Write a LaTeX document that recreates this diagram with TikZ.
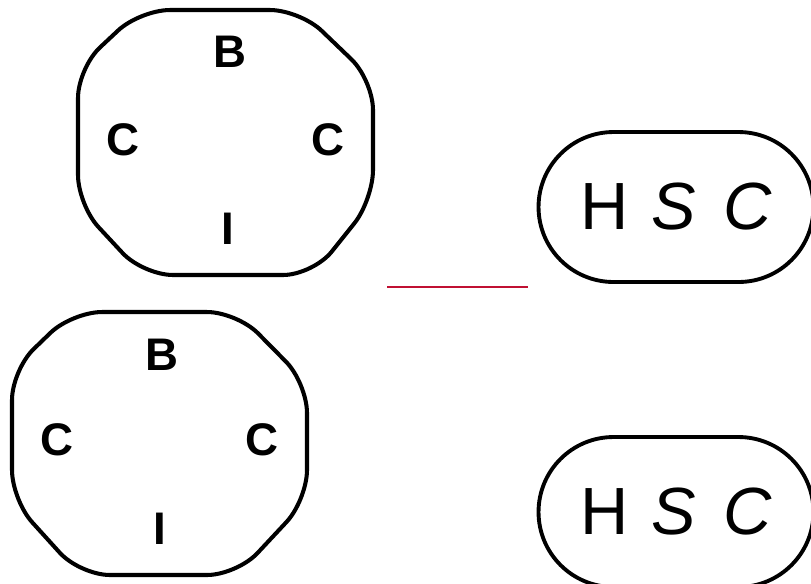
\documentclass[tikz,border=0pt]{standalone}
\usepackage{fontspec}
\setmainfont{Liberation Sans}
\usetikzlibrary{shapes.misc}
\definecolor{rulered}{RGB}{192,16,50}

\begin{document}
\begin{tikzpicture}[
  x=0.02cm, y=-0.02cm,
  pad/.style={draw, line width=2.3pt, rounded corners=0.6cm, line join=round},
  lbl/.style={font=\fontsize{26}{28}\selectfont\bfseries, inner sep=0pt},
  pill/.style={draw, line width=2.2pt, rounded rectangle, inner sep=0pt,
               minimum width=5.5cm, minimum height=3cm,
               font=\fontsize{38}{42}\selectfont},
  rule/.style={draw=rulered, line width=1.2pt}
]
\useasboundingbox (0,0) rectangle (811,583);
\clip (0,0) rectangle (811,583);

% ---- upper pad ----
\draw[pad] (140,10) -- (300,10) -- (373,80) -- (373,200) -- (313,275)
           -- (143,275) -- (78,205) -- (78,68) -- cycle;
\node[lbl] (bup)  at (230,52)  {B};
\node[lbl] (clup) at (123,140) {C};
\node[lbl] (crup) at (328,140) {C};
\node[lbl] (iup)  at (228,229) {I};

% ---- lower pad ----
\draw[pad] (72,312) -- (237,312) -- (307,383) -- (307,500) -- (237,575)
           -- (80,575) -- (12,500) -- (12,370) -- cycle;
\node[lbl] (blo)  at (162,355) {B};
\node[lbl] (cllo) at (57,440)  {C};
\node[lbl] (crlo) at (262,440) {C};
\node[lbl] (ilo)  at (160,529) {I};

% ---- HSC tags ----
\node[pill] (hscup) at (676,207) {H\hspace{0.35em}\textit{S}\hspace{0.4em}\textit{C}};
\node[pill] (hsclo) at (676,512) {H\hspace{0.35em}\textit{S}\hspace{0.4em}\textit{C}};

\draw[rule] (387,287) -- (528,287);
\end{tikzpicture}
\end{document}
